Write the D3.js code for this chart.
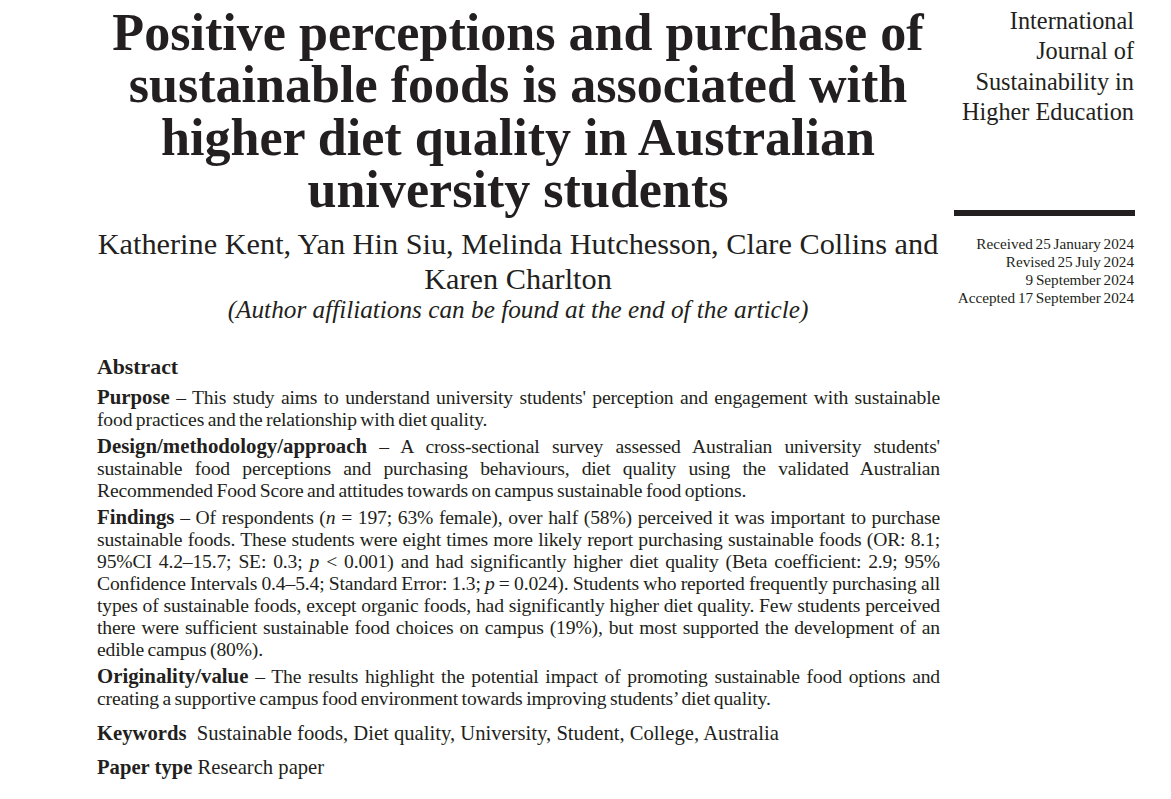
<!DOCTYPE html>
<meta charset="utf-8">
<style>
body { margin: 0; background: #fff; }
svg { display: block; }
text { font-family: "Liberation Serif", serif; fill: #231f20; }
</style>
<svg width="1171" height="799"></svg>
<script src="https://cdn.jsdelivr.net/npm/d3@7"></script>
<script>
var titleLines = ["Positive perceptions and purchase of", "sustainable foods is associated with", "higher diet quality in Australian", "university students"];
var authorLines = ["Katherine Kent, Yan Hin Siu, Melinda Hutchesson, Clare Collins and", "Karen Charlton"];
var affiliation = "(Author affiliations can be found at the end of the article)";
var journalLines = ["International", "Journal of", "Sustainability in", "Higher Education"];
var dateLines = ["Received 25 January 2024", "Revised 25 July 2024", "9 September 2024", "Accepted 17 September 2024"];

// runs: [text, style] b = bold, i = italic, last line of a paragraph is not justified
var purposeLines = [
  [["Purpose", "b"], [" – This study aims to understand university students' perception and engagement with sustainable"]],
  [["food practices and the relationship with diet quality."]]
];
var designLines = [
  [["Design/methodology/approach", "b"], [" – A cross-sectional survey assessed Australian university students'"]],
  [["sustainable food perceptions and purchasing behaviours, diet quality using the validated Australian"]],
  [["Recommended Food Score and attitudes towards on campus sustainable food options."]]
];
var findingsLines = [
  [["Findings", "b"], [" – Of respondents ("], ["n", "i"], [" = 197; 63% female), over half (58%) perceived it was important to purchase"]],
  [["sustainable foods. These students were eight times more likely report purchasing sustainable foods (OR: 8.1;"]],
  [["95%CI 4.2–15.7; SE: 0.3; "], ["p", "i"], [" < 0.001) and had significantly higher diet quality (Beta coefficient: 2.9; 95%"]],
  [["Confidence Intervals 0.4–5.4; Standard Error: 1.3; "], ["p", "i"], [" = 0.024). Students who reported frequently purchasing all"]],
  [["types of sustainable foods, except organic foods, had significantly higher diet quality. Few students perceived"]],
  [["there were sufficient sustainable food choices on campus (19%), but most supported the development of an"]],
  [["edible campus (80%)."]]
];
var originalityLines = [
  [["Originality/value", "b"], [" – The results highlight the potential impact of promoting sustainable food options and"]],
  [["creating a supportive campus food environment towards improving students’ diet quality."]]
];
var keywords = [["Keywords", "b"], ["  Sustainable foods, Diet quality, University, Student, College, Australia"]];
var paperType = [["Paper type", "b"], [" Research paper"]];

var svg = d3.select("svg");

function centred(lines, cx, y0, dy, size, weight, style) {
  svg.append("g").selectAll("text").data(lines).enter().append("text")
    .attr("x", cx)
    .attr("y", function(d, i) { return y0 + i * dy; })
    .attr("text-anchor", "middle")
    .style("font-size", size + "px")
    .style("font-weight", weight || "normal")
    .style("font-style", style || "normal")
    .text(function(d) { return d; });
}

function rightAligned(lines, x, y0, dy, size, spacing) {
  svg.append("g").selectAll("text").data(lines).enter().append("text")
    .attr("x", x)
    .attr("y", function(d, i) { return y0 + i * dy; })
    .attr("text-anchor", "end")
    .style("font-size", size + "px")
    .style("word-spacing", (spacing || 0) + "px")
    .text(function(d) { return d; });
}

// one line of mixed runs; with width set it is stretched through word spacing,
// otherwise it gets the tight default spacing of the last lines
function runLine(runs, x, y, size, boldSize, width, tight) {
  var t = svg.append("text").attr("x", x).attr("y", y)
    .style("white-space", "pre")
    .style("font-size", size + "px")
    .style("letter-spacing", tight ? "-0.15px" : null)
    .style("word-spacing", tight ? "-1.2px" : null);
  t.selectAll("tspan").data(runs).enter().append("tspan")
    .style("font-weight", function(d) { return d[1] == "b" ? "bold" : null; })
    .style("font-style", function(d) { return d[1] == "i" ? "italic" : null; })
    .style("font-size", function(d) { return d[1] == "b" ? boldSize + "px" : null; })
    .style("letter-spacing", function(d) { return d[1] == "b" ? "0" : null; })
    .text(function(d) { return d[0]; });
  if (width) {
    t.style("word-spacing", null);
    var spaces = runs.map(function(d) { return d[0]; }).join("").split(" ").length - 1;
    t.style("word-spacing", (width - t.node().getComputedTextLength()) / spaces + "px");
  }
}

function paragraph(lines, x, y0, dy, size, boldSize, width) {
  lines.forEach(function(runs, i) {
    runLine(runs, x, y0 + i * dy, size, boldSize, i < lines.length - 1 ? width : 0, true);
  });
}

centred(titleLines, 518, 50, 52.3, 52.1, "bold");
centred(authorLines, 518, 254, 35, 30.3);
centred([affiliation], 518, 317.5, 0, 25.25, "normal", "italic");

rightAligned(journalLines, 1134, 29, 30.4, 24.3);
svg.append("rect").attr("x", 954).attr("y", 210).attr("width", 181).attr("height", 6).attr("fill", "#231f20");
rightAligned(dateLines, 1134, 249, 18, 15.2, -1);

var bodyX = 97, bodyW = 843, bodySize = 19.6, boldSize = 20.8, lead = 22.1;
runLine([["Abstract", "b"]], bodyX, 374, 21.8, 21.8);
paragraph(purposeLines, bodyX, 403.5, lead, bodySize, boldSize, bodyW);
paragraph(designLines, bodyX, 453, lead, bodySize, boldSize, bodyW);
paragraph(findingsLines, bodyX, 523.5, lead, bodySize, boldSize, bodyW);
paragraph(originalityLines, bodyX, 682.5, lead, bodySize, boldSize, bodyW);
runLine(keywords, bodyX, 739.5, 20.65, 20.65);
runLine(paperType, bodyX, 774, 20.65, 20.65);
</script>
